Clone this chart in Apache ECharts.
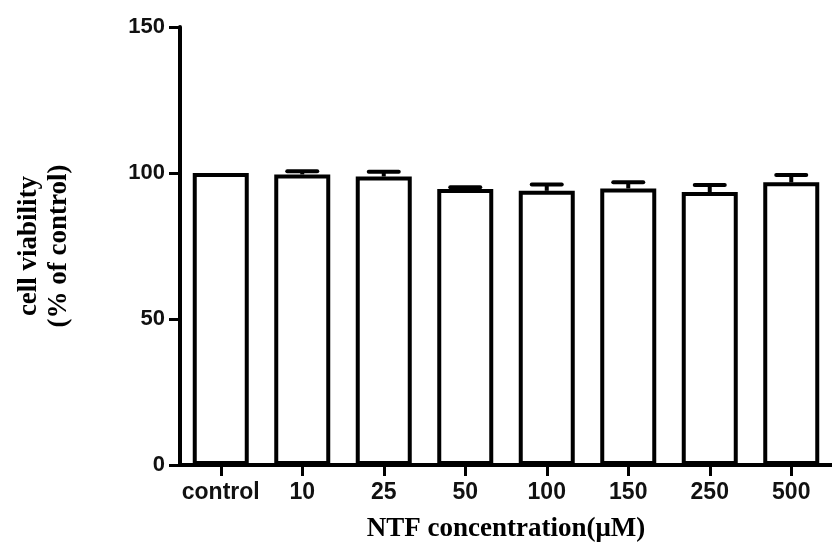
<!DOCTYPE html>
<html>
<head>
<meta charset="utf-8">
<script src="https://cdn.jsdelivr.net/npm/echarts@6/dist/echarts.min.js"></script>
<style>html,body{margin:0;padding:0;background:#fff;}#c{width:832px;height:548px;}</style>
</head>
<body>
<div id="c"></div>
<script>
var categories = ['control', '10', '25', '50', '100', '150', '250', '500'];
var viability = [100, 99.5, 98.8, 94.5, 93.9, 94.7, 93.5, 96.8];
var errors = [0, 1.1, 1.6, 0.6, 2.2, 2.1, 2.4, 2.5];
var yTicks = [0, 50, 100, 150];

var chart = echarts.init(document.getElementById('c'));
var errData = viability.map(function (v, i) { return [i, v, v + errors[i]]; });

chart.setOption({
  animation: false,
  backgroundColor: '#ffffff',
  grid: { left: 180, top: 27, width: 662, height: 441, containLabel: false },
  xAxis: {
    type: 'category',
    data: categories,
    boundaryGap: true,
    name: 'NTF concentration(\u03bcM)',
    nameLocation: 'middle',
    nameGap: 51,
    nameTextStyle: { fontFamily: 'Liberation Serif', fontWeight: 'bold', fontSize: 27, color: '#000' },
    axisLine: { lineStyle: { color: '#000', width: 4 } },
    axisTick: { show: true, interval: 0, alignWithLabel: true, length: 11, lineStyle: { color: '#000', width: 3 } },
    axisLabel: { interval: 0, color: '#111', fontFamily: 'Liberation Sans', fontWeight: 'bold', fontSize: 23, margin: 16 }
  },
  yAxis: {
    type: 'value',
    min: 0,
    max: 150,
    interval: 50,
    name: 'cell viability\n(% of control)',
    nameLocation: 'middle',
    nameRotate: 90,
    nameGap: 106,
    nameTextStyle: { fontFamily: 'Liberation Serif', fontWeight: 'bold', fontSize: 27, color: '#000', lineHeight: 30 },
    splitLine: { show: false },
    axisLine: { show: true, lineStyle: { color: '#000', width: 4 } },
    axisTick: { show: true, length: 11, lineStyle: { color: '#000', width: 3 } },
    axisLabel: {
      color: '#111', fontFamily: 'Liberation Sans', fontWeight: 'bold', fontSize: 22, margin: 15,
      formatter: function (v) { return yTicks.indexOf(v) >= 0 ? String(v) : ''; }
    }
  },
  series: [
    {
      type: 'bar',
      data: viability,
      barWidth: 56,
      itemStyle: { color: '#ffffff', borderColor: '#000', borderWidth: 4 },
      z: 2
    },
    {
      type: 'custom',
      data: errData,
      z: 3,
      renderItem: function (params, api) {
        var x = api.value(0);
        var top = api.coord([x, api.value(1)]);
        var hi = api.coord([x, api.value(2)]);
        var half = 15;
        if (api.value(2) - api.value(1) <= 0) return { type: 'group', children: [] };
        return {
          type: 'group',
          children: [
            { type: 'line', shape: { x1: top[0], y1: top[1], x2: hi[0], y2: hi[1] }, style: { stroke: '#000', lineWidth: 4 } },
            { type: 'line', shape: { x1: hi[0] - half, y1: hi[1], x2: hi[0] + half, y2: hi[1] }, style: { stroke: '#000', lineWidth: 4, lineCap: 'round' } }
          ]
        };
      }
    }
  ]
});
</script>
</body>
</html>
